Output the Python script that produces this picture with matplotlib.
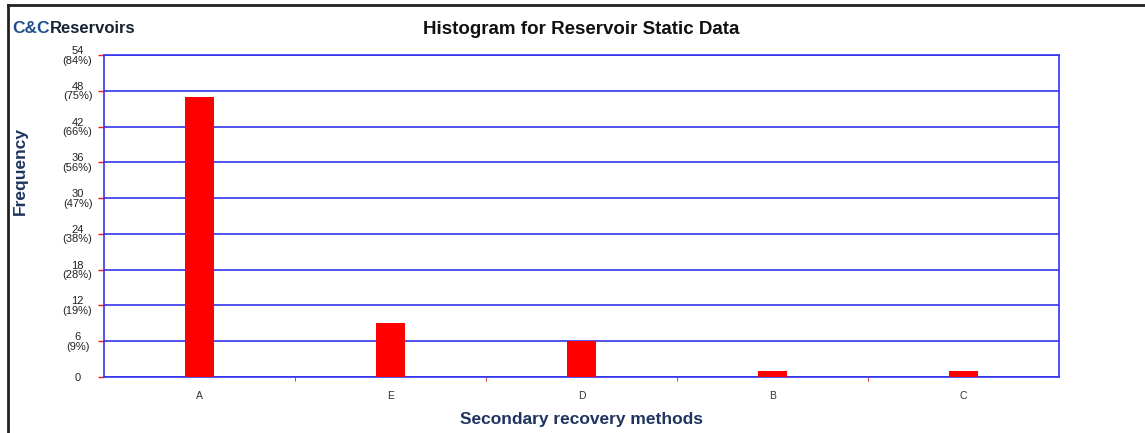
"""Histogram of secondary recovery methods (C&C Reservoirs static data)."""

import matplotlib

matplotlib.use("Agg")
import matplotlib.pyplot as plt  # noqa: E402
from matplotlib.lines import Line2D  # noqa: E402

METHODS = ["A", "E", "D", "B", "C"]
COUNTS = [47, 9, 6, 1, 1]
Y_TICKS = [0, 6, 12, 18, 24, 30, 36, 42, 48, 54]
Y_TICK_LABELS = ["0", "6\n(9%)", "12\n(19%)", "18\n(28%)", "24\n(38%)",
                 "30\n(47%)", "36\n(56%)", "42\n(66%)", "48\n(75%)", "54\n(84%)"]

BLUE = "#3333ee"
NAVY = "#1f3560"


def main() -> None:
    plt.rcParams["font.family"] = ["Liberation Sans", "DejaVu Sans"]
    fig = plt.figure(figsize=(11.45, 4.33), dpi=100)
    ax = fig.add_axes([0.0908, 0.1293, 0.834, 0.7437])

    x = range(len(METHODS))
    ax.bar(x, COUNTS, width=0.15, color="#ff0000", zorder=3)
    ax.set_xlim(-0.5, len(METHODS) - 0.5)
    ax.set_ylim(0, 54)

    ax.set_yticks(Y_TICKS)
    ax.set_yticklabels(Y_TICK_LABELS, fontsize=8, linespacing=0.95,
                       ha="center", multialignment="center")
    ax.tick_params(axis="y", colors="#ee2222", length=4, width=1, pad=15,
                   labelcolor="#222222")
    ax.set_xticks(list(x))
    ax.set_xticklabels(METHODS, fontsize=7.5, color="#333333")
    ax.tick_params(axis="x", which="major", length=0, pad=10)
    ax.set_xticks([i + 0.5 for i in range(len(METHODS) - 1)], minor=True)
    ax.tick_params(axis="x", which="minor", colors="#cc2222", length=3,
                   direction="out")

    ax.grid(axis="y", color=BLUE, linewidth=1.2, zorder=1)
    for spine in ax.spines.values():
        spine.set_color(BLUE)
        spine.set_linewidth(1.2)

    ax.set_xlabel("Secondary recovery methods", fontsize=12.5,
                  fontweight="bold", color=NAVY, labelpad=8)
    ax.set_ylabel("Frequency", fontsize=12.5, fontweight="bold", color=NAVY)
    ax.yaxis.set_label_coords(-0.08, 0.64)

    fig.text(0.508, 0.931, "Histogram for Reservoir Static Data", fontsize=13.5,
             fontweight="bold", ha="center", va="center", color="#111111")

    t = fig.text(0.011, 0.935, "C&C", fontsize=12.5, fontweight="bold",
                 color="#1f4e8c", va="center")
    fig.canvas.draw()
    bb = t.get_window_extent().transformed(fig.transFigure.inverted())
    fig.text(bb.x1, 0.935, "Reservoirs", fontsize=12, fontweight="bold",
             color="#1a2333", va="center")

    fig.add_artist(Line2D([0.007, 1.0], [0.988, 0.988], color="#222222",
                          linewidth=2, transform=fig.transFigure))
    fig.add_artist(Line2D([0.007, 0.007], [0.0, 0.988], color="#222222",
                          linewidth=2, transform=fig.transFigure))

    fig.savefig("out.png", dpi=100)
    plt.close(fig)


if __name__ == "__main__":
    main()
